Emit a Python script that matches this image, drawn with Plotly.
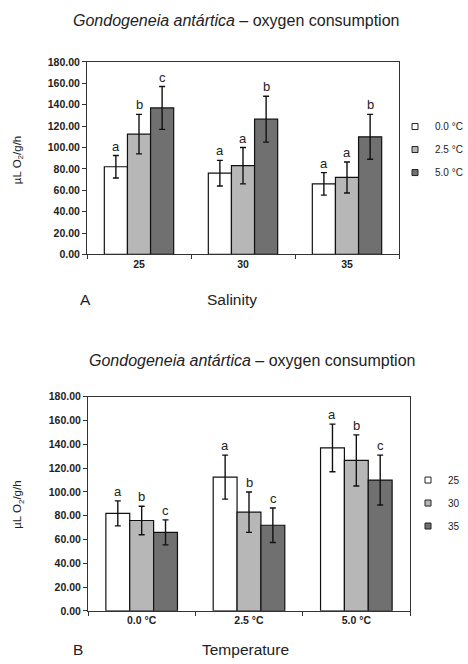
import plotly.graph_objects as go

# ---- data ----
salinity = ["25", "30", "35"]
temperature = ["0.0 °C", "2.5 °C", "5.0 °C"]

# mean oxygen consumption [temperature][salinity]
mean_vals = {
    "0.0 °C": [82.0, 76.0, 66.0],
    "2.5 °C": [112.5, 83.0, 72.0],
    "5.0 °C": [137.0, 126.5, 110.0],
}
err_vals = {
    "0.0 °C": [10.5, 12.0, 10.5],
    "2.5 °C": [18.5, 17.0, 14.5],
    "5.0 °C": [20.0, 21.5, 21.0],
}
# significance letters, panel A (by temperature, across salinity)
letters_A = {
    "0.0 °C": ["a", "a", "a"],
    "2.5 °C": ["b", "a", "a"],
    "5.0 °C": ["c", "b", "b"],
}
# significance letters, panel B (by salinity, across temperature)
letters_B = {
    "25": ["a", "a", "a"],
    "30": ["b", "b", "b"],
    "35": ["c", "c", "c"],
}
yticks = [0, 20, 40, 60, 80, 100, 120, 140, 160, 180]

colors = ["#ffffff", "#b7b7b7", "#707070"]
FONT = "Liberation Sans, Arial, sans-serif"
W, H = 468, 664

fig = go.Figure()

# ---- panel A: x = salinity, series = temperature ----
for i, t in enumerate(temperature):
    fig.add_trace(go.Bar(
        x=salinity, y=mean_vals[t], name=t,
        marker=dict(color=colors[i], line=dict(color="#111", width=1.2)),
        error_y=dict(type="data", array=err_vals[t], color="#111", thickness=1.4, width=3),
        xaxis="x", yaxis="y", showlegend=False,
    ))
    fig.add_trace(go.Scatter(
        x=[None], y=[None], mode="markers", name=t,
        marker=dict(symbol="square", size=6, color=colors[i], line=dict(color="#222", width=1)),
        xaxis="x", yaxis="y", legend="legend", legendgroup="A" + t,
    ))

# ---- panel B: x = temperature, series = salinity ----
for j, s in enumerate(salinity):
    means = [mean_vals[t][j] for t in temperature]
    errs = [err_vals[t][j] for t in temperature]
    fig.add_trace(go.Bar(
        x=temperature, y=means, name=s,
        marker=dict(color=colors[j], line=dict(color="#111", width=1.2)),
        error_y=dict(type="data", array=errs, color="#111", thickness=1.4, width=3),
        xaxis="x2", yaxis="y2", showlegend=False,
    ))
    fig.add_trace(go.Scatter(
        x=[None], y=[None], mode="markers", name=s,
        marker=dict(symbol="square", size=6, color=colors[j], line=dict(color="#222", width=1)),
        xaxis="x2", yaxis="y2", legend="legend2", legendgroup="B" + s,
    ))

annotations = []
# letters panel A (x given as category index)
barpx_A = 23.0
for i, t in enumerate(temperature):
    for k, s in enumerate(salinity):
        annotations.append(dict(
            x=k, y=mean_vals[t][k] + err_vals[t][k], xref="x", yref="y",
            text=letters_A[t][k], showarrow=False, yanchor="bottom",
            xshift=(i - 1) * barpx_A, yshift=0,
            font=dict(size=13, color="#222", family=FONT)))
# letters panel B
barpx_B = 24.0
for j, s in enumerate(salinity):
    for k, t in enumerate(temperature):
        annotations.append(dict(
            x=k, y=mean_vals[t][j] + err_vals[t][j], xref="x2", yref="y2",
            text=letters_B[s][k], showarrow=False, yanchor="bottom",
            xshift=(j - 1) * barpx_B, yshift=0,
            font=dict(size=13, color="#222", family=FONT)))

def px(xp, yp):
    return xp / W, 1 - yp / H

title_txt = "<i>Gondogeneia antártica</i> – oxygen consumption"
for (xp, yp, txt, size) in [
    (236, 15, title_txt, 16),
    (252, 361, title_txt, 16),
    (85, 299, "A", 15.5),
    (232, 299, "Salinity", 15.5),
    (78, 655, "B", 15.5),
    (245, 655, "Temperature", 15.5),
]:
    x, y = px(xp, yp)
    annotations.append(dict(x=x, y=y, xref="paper", yref="paper", text=txt,
                            showarrow=False, xanchor="center", yanchor="middle",
                            font=dict(size=size, color="#222", family=FONT)))
for (xp, yp) in [(18, 157), (18, 508)]:
    x, y = px(xp, yp)
    annotations.append(dict(x=x, y=y, xref="paper", yref="paper",
                            text="µL O<sub>2</sub>/g/h", textangle=-90,
                            showarrow=False, xanchor="center", yanchor="middle",
                            font=dict(size=11.5, color="#222", family=FONT)))

axis_common = dict(showline=True, mirror=True, linecolor="#333", linewidth=1,
                   showgrid=False, zeroline=False, ticks="outside", ticklen=4,
                   tickcolor="#333",
                   tickfont=dict(size=10.5, color="#222", family=FONT, weight="bold"))

fig.update_layout(
    width=W, height=H,
    margin=dict(l=0, r=0, t=0, b=0),
    paper_bgcolor="white", plot_bgcolor="white",
    barmode="group", bargap=0.333, bargroupgap=0,
    font=dict(family=FONT, color="#222"),
    xaxis=dict(domain=[87 / W, 399 / W], anchor="y", type="category",
               range=[-0.5, 2.5], tickson="boundaries", **axis_common),
    yaxis=dict(domain=[1 - 253 / H, 1 - 57 / H], anchor="x", range=[0, 180],
               tickvals=yticks, tickformat=".2f", **axis_common),
    xaxis2=dict(domain=[88 / W, 410 / W], anchor="y2", type="category",
                range=[-0.5, 2.5], tickson="boundaries", **axis_common),
    yaxis2=dict(domain=[1 - 616 / H, 1 - 398 / H], anchor="x2", range=[0, 180],
                tickvals=yticks, tickformat=".2f", **axis_common),
    legend=dict(x=1, y=1 - 108 / H, xanchor="right", yanchor="top",
                font=dict(size=10, color="#222", family=FONT),
                tracegroupgap=4, bgcolor="rgba(0,0,0,0)"),
    legend2=dict(x=(448 - 40) / W, y=1 - 468 / H, xanchor="left", yanchor="top",
                 font=dict(size=10, color="#222", family=FONT),
                 tracegroupgap=4, bgcolor="rgba(0,0,0,0)"),
    annotations=annotations,
)

fig.write_html("out.html",
               config={"displayModeBar": False},
               post_script="document.body.style.margin='0';document.body.style.padding='0';")
